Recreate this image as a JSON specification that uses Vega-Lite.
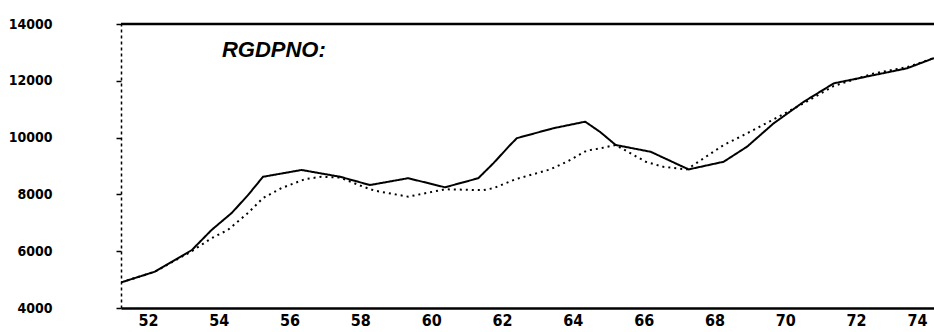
{
  "$schema": "https://vega.github.io/schema/vega-lite/v6.json",
  "width": 813,
  "height": 284,
  "autosize": "none",
  "padding": {"left": 121, "top": 24, "right": 0, "bottom": 24},
  "background": "white",
  "config": {"view": {"stroke": null}},
  "datasets": {
    "series": [
      {"year": 51.24, "series": "actual", "value": 4900},
      {"year": 52.2, "series": "actual", "value": 5280},
      {"year": 53.24, "series": "actual", "value": 6040},
      {"year": 53.8, "series": "actual", "value": 6750},
      {"year": 54.37, "series": "actual", "value": 7350},
      {"year": 54.83, "series": "actual", "value": 7980},
      {"year": 55.25, "series": "actual", "value": 8620},
      {"year": 56.34, "series": "actual", "value": 8860},
      {"year": 57.43, "series": "actual", "value": 8620},
      {"year": 58.27, "series": "actual", "value": 8330},
      {"year": 59.35, "series": "actual", "value": 8570},
      {"year": 60.39, "series": "actual", "value": 8250},
      {"year": 61.33, "series": "actual", "value": 8570},
      {"year": 61.76, "series": "actual", "value": 9100},
      {"year": 62.23, "series": "actual", "value": 9740},
      {"year": 62.42, "series": "actual", "value": 9980},
      {"year": 63.45, "series": "actual", "value": 10330},
      {"year": 64.35, "series": "actual", "value": 10560},
      {"year": 64.77, "series": "actual", "value": 10200},
      {"year": 65.21, "series": "actual", "value": 9740},
      {"year": 66.2, "series": "actual", "value": 9500},
      {"year": 67.27, "series": "actual", "value": 8880},
      {"year": 68.26, "series": "actual", "value": 9150},
      {"year": 68.92, "series": "actual", "value": 9680},
      {"year": 69.67, "series": "actual", "value": 10500},
      {"year": 70.52, "series": "actual", "value": 11260},
      {"year": 71.37, "series": "actual", "value": 11910},
      {"year": 72.5, "series": "actual", "value": 12200},
      {"year": 73.44, "series": "actual", "value": 12440},
      {"year": 74.2, "series": "actual", "value": 12800},
      {"year": 51.24, "series": "trend", "value": 4900},
      {"year": 52.2, "series": "trend", "value": 5280},
      {"year": 53.24, "series": "trend", "value": 6000},
      {"year": 53.8, "series": "trend", "value": 6460},
      {"year": 54.26, "series": "trend", "value": 6750},
      {"year": 54.83, "series": "trend", "value": 7350},
      {"year": 55.25, "series": "trend", "value": 7870},
      {"year": 55.77, "series": "trend", "value": 8220},
      {"year": 56.44, "series": "trend", "value": 8540},
      {"year": 56.9, "series": "trend", "value": 8620},
      {"year": 57.43, "series": "trend", "value": 8590},
      {"year": 58.08, "series": "trend", "value": 8270},
      {"year": 58.41, "series": "trend", "value": 8130},
      {"year": 59.35, "series": "trend", "value": 7920},
      {"year": 60.39, "series": "trend", "value": 8180},
      {"year": 61.47, "series": "trend", "value": 8150},
      {"year": 61.76, "series": "trend", "value": 8220},
      {"year": 62.37, "series": "trend", "value": 8530},
      {"year": 63.36, "series": "trend", "value": 8880},
      {"year": 63.83, "series": "trend", "value": 9150},
      {"year": 64.39, "series": "trend", "value": 9540},
      {"year": 64.77, "series": "trend", "value": 9620},
      {"year": 65.21, "series": "trend", "value": 9740},
      {"year": 66.06, "series": "trend", "value": 9150},
      {"year": 66.56, "series": "trend", "value": 8970},
      {"year": 67.22, "series": "trend", "value": 8880},
      {"year": 68.26, "series": "trend", "value": 9740},
      {"year": 68.73, "series": "trend", "value": 10030},
      {"year": 69.67, "series": "trend", "value": 10640},
      {"year": 70.52, "series": "trend", "value": 11210},
      {"year": 71.37, "series": "trend", "value": 11820},
      {"year": 72.5, "series": "trend", "value": 12260},
      {"year": 73.44, "series": "trend", "value": 12480},
      {"year": 74.2, "series": "trend", "value": 12800}
    ],
    "label": [
      {"year": 54.09, "value": 12850, "text": "RGDPNO:"}
    ]
  },
  "layer": [
    {
      "data": {"name": "series"},
      "mark": {"type": "line", "color": "black", "strokeWidth": 2, "clip": true},
      "encoding": {
        "x": {
          "field": "year", "type": "quantitative",
          "scale": {"domain": [51.24, 74.2], "nice": false, "zero": false},
          "axis": {
            "title": null,
            "values": [52, 54, 56, 58, 60, 62, 64, 66, 68, 70, 72, 74],
            "format": "d",
            "grid": false,
            "ticks": false,
            "domainColor": "black",
            "domainWidth": 2.5,
            "labelFont": "DejaVu Sans Condensed",
            "labelFontWeight": "bold",
            "labelFontSize": 16,
            "labelColor": "black",
            "labelPadding": 4,
            "labelFlush": 10
          }
        },
        "y": {
          "field": "value", "type": "quantitative",
          "scale": {"domain": [4000, 14000], "nice": false, "zero": false},
          "axis": {
            "title": null,
            "values": [4000, 6000, 8000, 10000, 12000, 14000],
            "format": "d",
            "grid": false,
            "ticks": true,
            "tickSize": 5,
            "tickColor": "black",
            "tickWidth": 1.5,
            "domainColor": "black",
            "domainWidth": 1.5,
            "domainDash": [3, 3],
            "labelFont": "DejaVu Sans Condensed",
            "labelFontWeight": "bold",
            "labelFontSize": 14,
            "labelColor": "black",
            "labelPadding": 64
          }
        },
        "detail": {"field": "series"},
        "strokeDash": {
          "field": "series", "type": "nominal",
          "scale": {"domain": ["actual", "trend"], "range": [[1, 0], [2, 4]]},
          "legend": null
        }
      }
    },
    {
      "data": {"values": [{}]},
      "mark": {"type": "rule", "color": "black", "strokeWidth": 2.5},
      "encoding": {"y": {"datum": 14000}}
    },
    {
      "data": {"name": "label"},
      "mark": {"type": "text", "align": "left", "baseline": "alphabetic", "font": "Liberation Sans", "fontWeight": "bold", "fontStyle": "italic", "fontSize": 22, "color": "black"},
      "encoding": {
        "x": {"field": "year", "type": "quantitative"},
        "y": {"field": "value", "type": "quantitative"},
        "text": {"field": "text"}
      }
    }
  ]
}
